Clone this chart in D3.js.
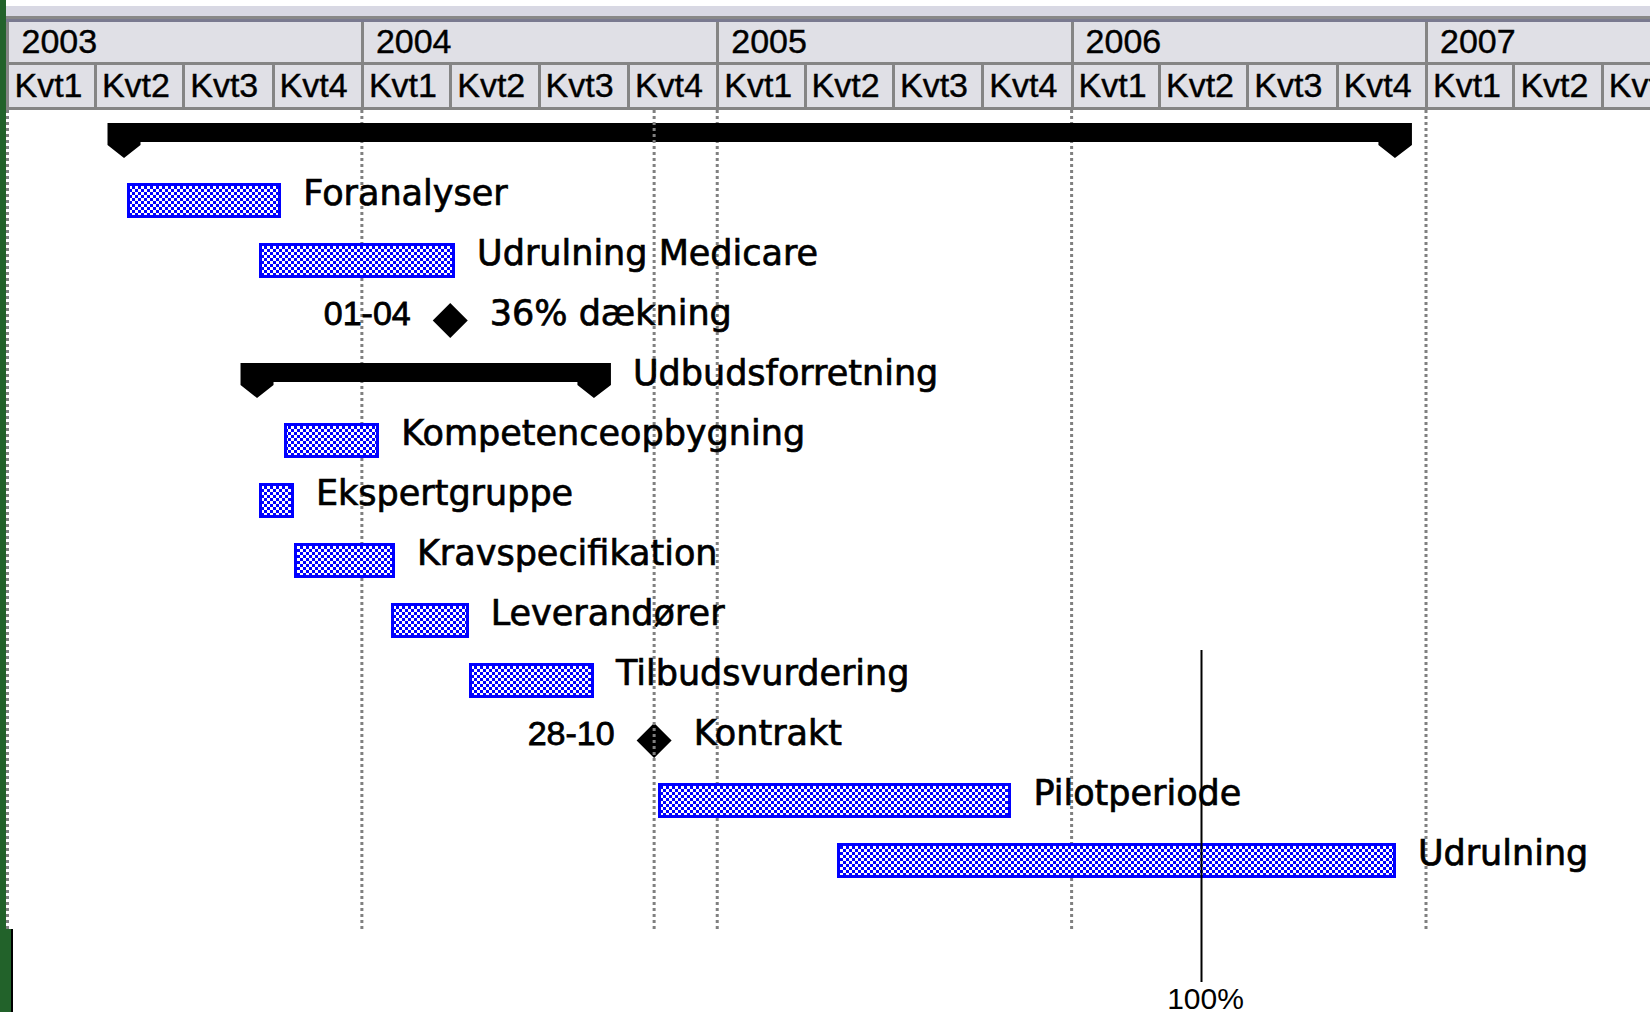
<!DOCTYPE html>
<html>
<head>
<meta charset="utf-8">
<script src="https://cdn.jsdelivr.net/npm/d3@7"></script>
<style>
  body { margin: 0; background: #fff; }
  svg { display: block; }
  .hdr-text { font-family: "Liberation Sans", Arial, sans-serif; font-size: 34px; fill: #000; stroke: #000; stroke-width: 0.4px; }
  .label { font-family: "DejaVu Sans", Verdana, sans-serif; font-size: 35px; fill: #000; stroke: #000; stroke-width: 0.7px; }
  .date-label { font-family: "Liberation Sans", Arial, sans-serif; font-size: 34px; fill: #000; stroke: #000; stroke-width: 0.8px; }
  .pct-label { font-family: "Liberation Sans", Arial, sans-serif; font-size: 30px; fill: #000; }
</style>
</head>
<body>
<div id="chart"></div>
<script>
// rows, top to bottom (row 0 is the project summary, it has no label)
const taskNames = ['', 'Foranalyser', 'Udrulning Medicare', '36% dækning', 'Udbudsforretning',
  'Kompetenceopbygning', 'Ekspertgruppe', 'Kravspecifikation', 'Leverandører',
  'Tilbudsvurdering', 'Kontrakt', 'Pilotperiode', 'Udrulning'];
const taskTypes = ['summary', 'task', 'task', 'milestone', 'summary', 'task', 'task',
  'task', 'task', 'task', 'milestone', 'task', 'task'];
const taskStarts = ['2003-05-01', '2003-05-04', '2003-09-17', '2004-04-01', '2003-09-15',
  '2003-10-13', '2003-09-17', '2003-10-23', '2004-01-31', '2004-04-20', '2004-10-28',
  '2004-11-01', '2005-05-04'];
const taskEnds = ['2006-11-30', '2003-10-10', '2004-04-06', '2004-04-01', '2004-08-27',
  '2004-01-19', '2003-10-23', '2004-02-04', '2004-04-20', '2004-08-27', '2004-10-28',
  '2005-10-31', '2006-12-01'];

// timescale header
const yearLabels = ['2003', '2004', '2005', '2006', '2007'];
const quarterLabels = ['Kvt1', 'Kvt2', 'Kvt3', 'Kvt4'];

// dotted vertical gridlines (year starts) and the current date line
const gridDates = ['2003-01-01', '2004-01-01', '2005-01-01', '2006-01-01', '2007-01-01'];
const currentDate = '2004-10-28';

// progress marker at the bottom
const progressDate = '2006-05-14';
const progressLabel = '100%';

const parse = d3.timeParse('%Y-%m-%d');
const fmtDay = d3.timeFormat('%d-%m');

const W = 1650, H = 1012;
const chartBottom = 929;
const barColor = '#0000ff';

const svg = d3.select('#chart')
  .append('svg')
  .attr('width', W)
  .attr('height', H);

const x = d3.scaleTime()
  .domain([parse('2003-01-01'), parse('2007-01-01')])
  .range([7.5, 1426]);

const y = d3.scalePoint()
  .domain(d3.range(taskNames.length))
  .range([140.5, 860.5]);

// checker fill used by the task bars
const pat = svg.append('defs').append('pattern')
  .attr('id', 'checker')
  .attr('patternUnits', 'userSpaceOnUse')
  .attr('width', 6)
  .attr('height', 6);
pat.append('rect').attr('width', 6).attr('height', 6).attr('fill', '#fff');
pat.append('rect').attr('width', 3).attr('height', 3).attr('fill', barColor);
pat.append('rect').attr('x', 3).attr('y', 3).attr('width', 3).attr('height', 3).attr('fill', barColor);

// window frame on the left
svg.append('rect').attr('x', 0).attr('y', 0).attr('width', 6).attr('height', chartBottom).attr('fill', '#22622a');
svg.append('rect').attr('x', 0).attr('y', chartBottom).attr('width', 11).attr('height', H - chartBottom).attr('fill', '#22622a');
svg.append('rect').attr('x', 11).attr('y', chartBottom).attr('width', 2).attr('height', H - chartBottom).attr('fill', '#000');

// header
const hdr = svg.append('g').attr('shape-rendering', 'crispEdges');
hdr.append('rect').attr('x', 6).attr('y', 6).attr('width', W - 6).attr('height', 10).attr('fill', '#d8d8e3');
hdr.append('rect').attr('x', 6).attr('y', 16).attr('width', W - 6).attr('height', 3).attr('fill', '#888');
hdr.append('rect').attr('x', 6).attr('y', 19).attr('width', W - 6).attr('height', 3).attr('fill', '#7a7a90');
hdr.append('rect').attr('x', 6).attr('y', 22).attr('width', W - 6).attr('height', 85).attr('fill', '#e0e0e6');
hdr.append('rect').attr('x', 6).attr('y', 62).attr('width', W - 6).attr('height', 3).attr('fill', '#858585');
hdr.append('rect').attr('x', 6).attr('y', 107).attr('width', W - 6).attr('height', 3).attr('fill', '#858585');
hdr.append('rect').attr('x', 6).attr('y', 22).attr('width', 3).attr('height', 88).attr('fill', '#858585');

const quarters = [];
yearLabels.forEach(yr => {
  quarterLabels.forEach((q, i) => {
    const d = new Date(+yr, i * 3, 1);
    if (x(d) < W) quarters.push({ date: d, label: q });
  });
});

hdr.selectAll('.q-sep')
  .data(quarters.filter(d => d.date.getMonth() !== 0))
  .join('rect')
  .attr('class', 'q-sep')
  .attr('x', d => Math.round(x(d.date)) - 1.5)
  .attr('y', 65)
  .attr('width', 3)
  .attr('height', 42)
  .attr('fill', '#858585');

hdr.selectAll('.y-sep')
  .data(yearLabels.slice(1))
  .join('rect')
  .attr('class', 'y-sep')
  .attr('x', d => Math.round(x(parse(d + '-01-01'))) - 1.5)
  .attr('y', 22)
  .attr('width', 3)
  .attr('height', 85)
  .attr('fill', '#858585');

hdr.selectAll('.y-label')
  .data(yearLabels)
  .join('text')
  .attr('class', 'hdr-text y-label')
  .attr('x', d => x(parse(d + '-01-01')) + 14)
  .attr('y', 53)
  .text(d => d);

hdr.selectAll('.q-label')
  .data(quarters)
  .join('text')
  .attr('class', 'hdr-text q-label')
  .attr('x', d => x(d.date) + 7)
  .attr('y', 97)
  .text(d => d.label);

// gridlines, behind the bars
const dotted = sel => sel
  .attr('x1', d => x(parse(d)))
  .attr('x2', d => x(parse(d)))
  .attr('y1', 110)
  .attr('y2', chartBottom)
  .attr('stroke', '#808080')
  .attr('stroke-width', 3)
  .attr('stroke-dasharray', '3,3');

svg.selectAll('.grid')
  .data(gridDates)
  .join('line')
  .attr('class', 'grid')
  .call(dotted);

const rows = taskNames.map((name, i) => ({
  name,
  type: taskTypes[i],
  start: parse(taskStarts[i]),
  end: parse(taskEnds[i]),
  row: i
}));

// plain tasks
svg.selectAll('.bar')
  .data(rows.filter(d => d.type === 'task'))
  .join('rect')
  .attr('class', 'bar')
  .attr('x', d => x(d.start) + 1.5)
  .attr('y', d => y(d.row) - 16)
  .attr('width', d => x(d.end) - x(d.start) - 3)
  .attr('height', 32)
  .attr('fill', 'url(#checker)')
  .attr('stroke', barColor)
  .attr('stroke-width', 3)
  .attr('shape-rendering', 'crispEdges');

// summary bars with down-pointing end caps
const summaryPath = d => {
  const s = x(d.start), e = x(d.end), c = y(d.row);
  const top = c - 17.5, bot = c + 1.5, cap = c + 4.5, tip = c + 17.5;
  return `M${s - 16.5},${top}L${e + 17},${top}L${e + 17},${cap}L${e},${tip}L${e - 16.5},${cap}` +
    `L${e - 16.5},${bot}L${s + 16.5},${bot}L${s + 16.5},${cap}L${s},${tip}L${s - 16.5},${cap}Z`;
};
svg.selectAll('.summary')
  .data(rows.filter(d => d.type === 'summary'))
  .join('path')
  .attr('class', 'summary')
  .attr('d', summaryPath)
  .attr('fill', '#000');

// milestones
svg.selectAll('.milestone')
  .data(rows.filter(d => d.type === 'milestone'))
  .join('path')
  .attr('class', 'milestone')
  .attr('d', d => {
    const cx = x(d.start), c = y(d.row), r = 17.5;
    return `M${cx},${c - r}L${cx + r},${c}L${cx},${c + r}L${cx - r},${c}Z`;
  })
  .attr('fill', '#000');

// current date line sits on top of the marks
svg.selectAll('.current')
  .data([currentDate])
  .join('line')
  .attr('class', 'current')
  .call(dotted);

svg.selectAll('.date-label')
  .data(rows.filter(d => d.type === 'milestone'))
  .join('text')
  .attr('class', 'date-label')
  .attr('x', d => x(d.start) - 17.5 - 22)
  .attr('y', d => y(d.row) + 4.5)
  .attr('text-anchor', 'end')
  .text(d => fmtDay(d.start));

// task names to the right of each mark
const labelX = d => {
  if (d.type === 'summary') return x(d.end) + 17 + 22;
  if (d.type === 'milestone') return x(d.end) + 17.5 + 22;
  return x(d.end) + 22;
};
svg.selectAll('.label')
  .data(rows.filter(d => d.name))
  .join('text')
  .attr('class', 'label')
  .attr('x', labelX)
  .attr('y', d => y(d.row) + 4.5)
  .text(d => d.name);

// progress line
const px = Math.round(x(parse(progressDate))) + 0.5;
svg.append('line')
  .attr('x1', px).attr('x2', px)
  .attr('y1', 650).attr('y2', 982)
  .attr('stroke', '#000')
  .attr('stroke-width', 2);
svg.append('text')
  .attr('class', 'pct-label')
  .attr('x', px + 4)
  .attr('y', 1009)
  .attr('text-anchor', 'middle')
  .text(progressLabel);
</script>
</body>
</html>
